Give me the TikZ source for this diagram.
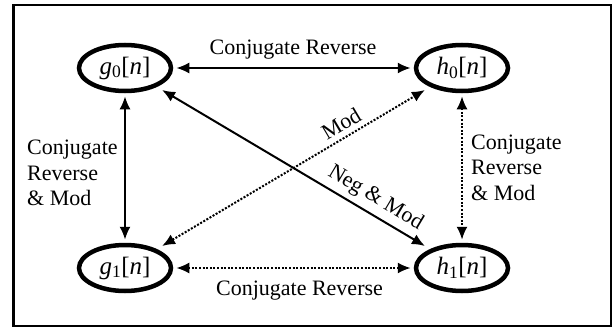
\documentclass[tikz,border=0pt]{standalone}
\usepackage{fontspec}
\setmainfont{Liberation Serif}
\usetikzlibrary{shapes.geometric,arrows.meta}
\begin{document}
\begin{tikzpicture}[x=1pt,y=-1pt,
  sig/.style={ellipse, draw, line width=4.5pt, minimum width=92pt, minimum height=46pt, inner sep=0pt, font=\fontsize{25}{30}\selectfont},
  lbl/.style={font=\fontsize{22}{25.5}\selectfont, inner sep=0pt},
  conn/.style={line width=2pt, {Latex[length=13pt,width=11pt]}-{Latex[length=13pt,width=11pt]}, shorten <=3pt, shorten >=3pt},
  dotconn/.style={conn, dash pattern=on 2pt off 1.6pt},
  diag/.style={shorten <=6pt, shorten >=6pt}]
\useasboundingbox (0,0) rectangle (613,329);
\draw[line width=2.5pt] (13.5,5) rectangle (611,326);
\node[sig] (g0) at (125,68) {\textit{g}\textsubscript{0}[\textit{n}]};
\node[sig] (h0) at (462,68) {\textit{h}\textsubscript{0}[\textit{n}]};
\node[sig] (g1) at (125,268) {\textit{g}\textsubscript{1}[\textit{n}]};
\node[sig] (h1) at (462,268) {\textit{h}\textsubscript{1}[\textit{n}]};
\draw[conn] (g0) -- (h0);
\draw[conn] (g0) -- (g1);
\draw[dotconn] (h0) -- (h1);
\draw[dotconn] (g1) -- (h1);
\draw[conn,diag] (g0) -- (h1) node[lbl, sloped, pos=0.77, above=5pt] (lneg) {Neg \& Mod};
\draw[dotconn,diag] (g1) -- (h0) node[lbl, sloped, pos=0.7, above=5pt] (lmod) {Mod};
\node[lbl] (ltop) at (293,50) {Conjugate Reverse};
\node[lbl] (lbot) at (299.5,291) {Conjugate Reverse};
\node[lbl, align=left, anchor=north west] (lleft) at (27,140) {Conjugate\\Reverse\\\& Mod};
\node[lbl, align=left, anchor=north west] (lright) at (471,134.5) {Conjugate\\Reverse\\\& Mod};
\end{tikzpicture}
\end{document}
